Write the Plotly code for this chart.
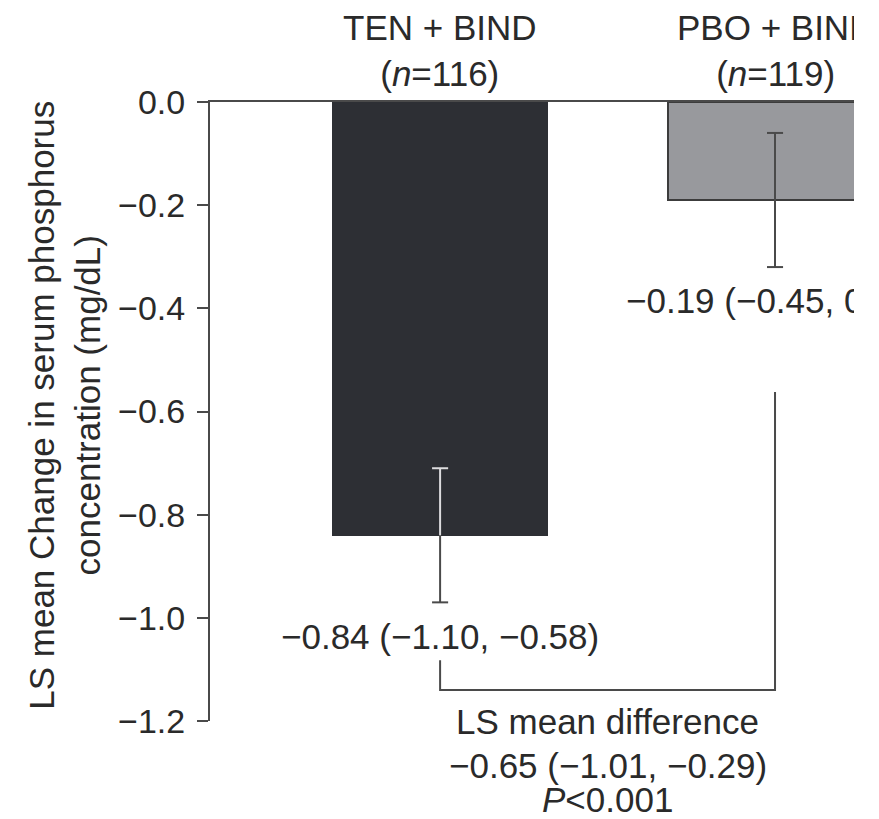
import plotly.graph_objects as go

# ---- data ----
groups = ["TEN + BIND", "PBO + BIND"]
group_n = [116, 119]
ls_mean = [-0.84, -0.19]
ls_se = [0.13, 0.13]
ci_text = ["−0.84 (−1.10, −0.58)", "−0.19 (−0.45, 0.07)"]
diff_text = ["LS mean difference", "−0.65 (−1.01, −0.29)", "<i>P</i><0.001"]
y_ticks = [0.0, -0.2, -0.4, -0.6, -0.8, -1.0, -1.2]
y_title = ["LS mean Change in serum phosphorus", "concentration (mg/dL)"]

# ---- styles ----
FONT = "Liberation Sans, Arial, Helvetica, sans-serif"
FS = 35
TXT = "#2a2a2a"
LINE = "#4a4a4a"
bar_colors = ["#2d2f34", "#98999d"]
bar_lines = ["#2d2f34", "#3c3c3c"]
x_idx = list(range(len(groups)))
cap = 0.024

fig = go.Figure()
fig.add_trace(go.Bar(
    x=x_idx, y=ls_mean, width=0.639,
    marker=dict(color=bar_colors, line=dict(color=bar_lines, width=2)),
    hoverinfo="skip", showlegend=False,
))

def seg(xc, y0, y1):
    # vertical segment from y0 to y1 with a cap at y1
    return [xc, xc, None, xc - cap, xc + cap, None], [y0, y1, None, y1, y1, None]

# error bars: upper half of first bar drawn light (inside dark bar)
up_x, up_y, lo_x, lo_y = [], [], [], []
for i, (m, s) in enumerate(zip(ls_mean, ls_se)):
    ax_, ay_ = seg(i, m, m + s)
    bx_, by_ = seg(i, m, m - s)
    if i == 0:
        up_x += ax_; up_y += ay_
    else:
        lo_x += ax_; lo_y += ay_
    lo_x += bx_; lo_y += by_

fig.add_trace(go.Scatter(x=lo_x, y=lo_y, mode="lines", line=dict(color=LINE, width=2),
                         hoverinfo="skip", showlegend=False))
fig.add_trace(go.Scatter(x=up_x, y=up_y, mode="lines", line=dict(color="#dcdcde", width=2),
                         hoverinfo="skip", showlegend=False))

# bracket linking the two groups
bracket_bottom = -1.14
bracket_tops = [-1.082, -0.562]
fig.add_trace(go.Scatter(
    x=[x_idx[0], x_idx[0], x_idx[1], x_idx[1]],
    y=[bracket_tops[0], bracket_bottom, bracket_bottom, bracket_tops[1]],
    mode="lines", line=dict(color=LINE, width=2), hoverinfo="skip", showlegend=False,
))

annotations = []
for i, (g, n) in enumerate(zip(groups, group_n)):
    annotations.append(dict(
        x=i, xref="x", y=1.084, yref="paper", xanchor="center", yanchor="middle",
        text=f"{g}<br>(<i>n</i>={n})", showarrow=False,
        font=dict(family=FONT, size=FS, color=TXT),
    ))
ci_y = [-1.037, -0.384]
for i, t in enumerate(ci_text):
    annotations.append(dict(
        x=i, xref="x", y=ci_y[i], yref="y", xanchor="center", yanchor="middle",
        text=t, showarrow=False, font=dict(family=FONT, size=FS, color=TXT),
    ))
diff_y = [-0.0016, -0.0711, -0.1276]
for t, yy in zip(diff_text, diff_y):
    annotations.append(dict(
        x=0.5, xref="x", y=yy, yref="paper", xanchor="center", yanchor="middle",
        text=t, showarrow=False, font=dict(family=FONT, size=FS, color=TXT),
    ))
annotations.append(dict(
    x=-0.226, xref="paper", y=0.51, yref="paper", xanchor="center", yanchor="middle",
    text="<br>".join(y_title), textangle=-90, showarrow=False, align="center",
    font=dict(family=FONT, size=FS, color=TXT),
))

# the original figure is cropped at x≈854 px; page is white beyond
fig.update_layout(
    width=854, height=819,
    margin=dict(l=210, r=0, t=102, b=98),
    paper_bgcolor="white", plot_bgcolor="white",
    bargap=0, annotations=annotations,
    xaxis=dict(range=[-0.687, 1.2358], side="top", showticklabels=False, ticks="",
               showgrid=False, zeroline=False, showline=True, linecolor=LINE, linewidth=2),
    yaxis=dict(range=[-1.2, 0], tickvals=y_ticks, tickformat=".1f", ticks="outside",
               ticklen=11, tickwidth=2, tickcolor=LINE, showline=True, linecolor=LINE,
               linewidth=2, showgrid=False, zeroline=False, ticklabelstandoff=5,
               tickfont=dict(family=FONT, size=34, color=TXT)),
)

fig.write_html("out.html", config={"displayModeBar": False},
               post_script="document.body.style.margin='0';")
